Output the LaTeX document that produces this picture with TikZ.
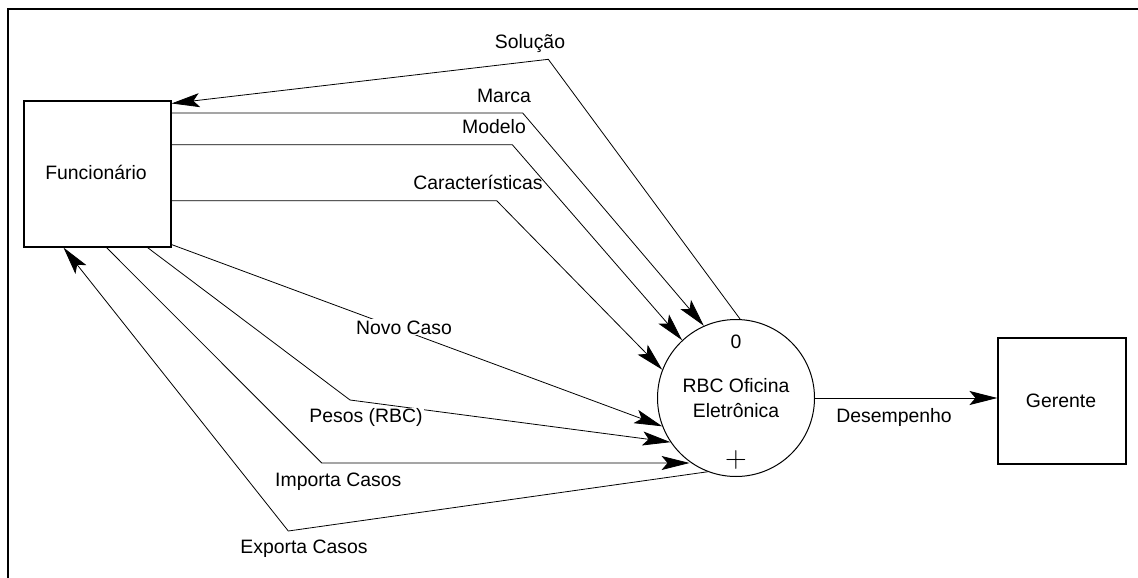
\documentclass[tikz,border=0pt]{standalone}
\usepackage{graphicx}
\usepackage{fontspec}
\setmainfont{Liberation Sans}
\usetikzlibrary{arrows.meta}
\begin{document}
\begin{tikzpicture}[x=1pt,y=-1pt,
  every node/.style={font=\fontsize{19.4}{25.7}\selectfont, inner sep=2pt},
  entity/.style={draw, line width=1.1pt, rectangle, inner sep=0pt},
  process/.style={draw, line width=1pt, circle, inner sep=0pt, minimum size=157pt, align=center},
  flow/.style={line width=0.8pt, -{Stealth[length=28pt,width=14pt,inset=6pt]}},
  lbl/.style={anchor=base},
  lblw/.style={anchor=base, fill=white, inner sep=1pt}]
  \useasboundingbox (0,0) rectangle (1138,578);
  % outer frame (top and left edges)
  \draw[line width=2.4pt] (8,578) -- (8,9) -- (1138,9);

  % external entities and the process
  \node[entity, minimum width=147pt, minimum height=146pt] (func) at (97.5,174) {};
  \node[lbl] (funct) at (96,179) {Funcionário};
  \node[entity, minimum width=128pt, minimum height=126pt] (ger) at (1062,401) {};
  \node[lbl] (gert) at (1061,407) {Gerente};
  \node[process] (proc) at (736,398) {RBC Oficina\\Eletrônica};
  \node[lbl] (pnum) at (736,348) {0};
  \node[inner sep=0pt] (pplus) at (736,460) {\scalebox{1.45}{$+$}};

  % bend points
  \coordinate (bsol) at (548.3,59.3);
  \coordinate (bmar) at (522.7,113);
  \coordinate (bmod) at (512.3,144.7);
  \coordinate (bcar) at (496.7,200.7);
  \coordinate (bpes) at (350,400);
  \coordinate (bimp) at (321.7,463);
  \coordinate (bexp) at (288.3,531);

  % flows
  \draw[flow] (proc.87) -- (bsol) -- ([yshift=-3pt]func.north east);
  \draw[flow] ([yshift=61pt]func.east) -- (bmar) -- (proc.114);
  \draw[flow] ([yshift=29.3pt]func.east) -- (bmod) -- (proc.133.5);
  \draw[flow] ([yshift=-26.7pt]func.east) -- (bcar) -- (proc.159);
  \draw[flow] ([yshift=3pt]func.south east) -- (proc.201);
  \draw[flow] ([xshift=50pt]func.south) -- (bpes) -- (proc.214);
  \draw[flow] ([xshift=9pt]func.south) -- (bimp) -- (bimp -| proc.234);
  \draw[flow] (proc.249.7) -- (bexp) -- ([xshift=-34pt]func.south);
  \draw[flow] (proc.east) -- (proc.east -| ger.west);

  % flow labels
  \node[lbl] (lsol) at (530,48.7) {Solução};
  \node[lbl] (lmar) at (504,102.7) {Marca};
  \node[lbl] (lmod) at (494,133.7) {Modelo};
  \node[lbl] (lcar) at (478,189.7) {Características};
  \node[lblw] (lnov) at (404,334) {Novo Caso};
  \node[lblw] (lpes) at (366,422.7) {Pesos (RBC)};
  \node[lbl] (limp) at (338.3,486.3) {Importa Casos};
  \node[lbl] (lexp) at (304,553.7) {Exporta Casos};
  \node[lbl] (ldes) at (894,422.7) {Desempenho};
\end{tikzpicture}
\end{document}
